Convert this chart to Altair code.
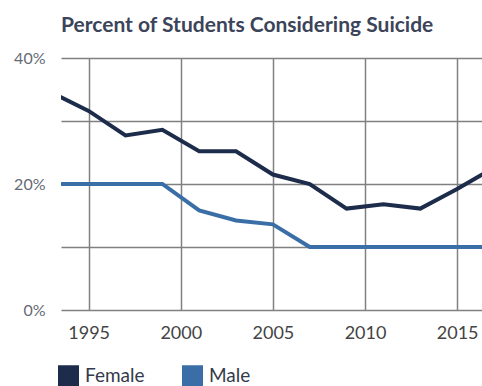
import altair as alt
import pandas as pd

years = [1993, 1995, 1997, 1999, 2001, 2003, 2005, 2007, 2009, 2011, 2013, 2015, 2017]
female = [34.5, 31.6, 27.7, 28.6, 25.2, 25.2, 21.5, 20.0, 16.1, 16.8, 16.1, 19.2, 22.6]
male = [20.0, 20.0, 20.0, 20.0, 15.8, 14.2, 13.6, 10.0, 10.0, 10.0, 10.0, 10.0, 10.0]
series = ["Female", "Male"]
colors = ["#1d2c4b", "#3a6ea6"]
x_ticks = [1995, 2000, 2005, 2010, 2015]
y_ticks = [0, 10, 20, 30, 40]

rows = []
for y, f, m in zip(years, female, male):
    rows.append({"year": y, "pct": f, "sex": "Female"})
    rows.append({"year": y, "pct": m, "sex": "Male"})
df = pd.DataFrame(rows)

chart = alt.Chart(df).mark_line(strokeWidth=4, clip=True).encode(
    x=alt.X("year:Q",
            scale=alt.Scale(domain=[1993.5, 2016.35], nice=False, zero=False),
            axis=alt.Axis(values=x_ticks, format="d", title=None, ticks=False,
                          domain=False, labelPadding=14, labelFontSize=18,
                          labelColor="#444444", labelFont="Lato",
                          gridColor="#808080", gridWidth=1.5)),
    y=alt.Y("pct:Q",
            scale=alt.Scale(domain=[0, 40], nice=False),
            axis=alt.Axis(values=y_ticks, title=None, ticks=False, domain=False,
                          labelExpr="datum.value % 20 == 0 ? datum.value + '%' : ''",
                          labelPadding=16, labelFontSize=16, labelColor="#666a75",
                          labelFont="Lato", gridColor="#808080", gridWidth=1.5)),
    color=alt.Color("sex:N", scale=alt.Scale(domain=series, range=colors),
                    legend=alt.Legend(title=None, orient="none", legendX=-3, legendY=307,
                                      direction="horizontal", symbolType="square",
                                      symbolSize=100, symbolStrokeWidth=11,
                                      labelFontSize=19, labelFont="Lato",
                                      labelColor="#333a4a", columnPadding=20,
                                      labelOffset=6, symbolOpacity=1)),
).properties(
    width=421,
    height=252,
    background="white",
    title=alt.TitleParams("Percent of Students Considering Suicide", anchor="start",
                          frame="group", font="Lato", fontSize=21, fontWeight="bold",
                          color="#3b4459", offset=14),
    padding={"left": 61, "top": 58, "right": 0, "bottom": 76},
    autosize=alt.AutoSizeParams(type="none"),
).configure_view(strokeWidth=0)

chart.save("out.html", embed_options={"renderer": "svg", "actions": False})
